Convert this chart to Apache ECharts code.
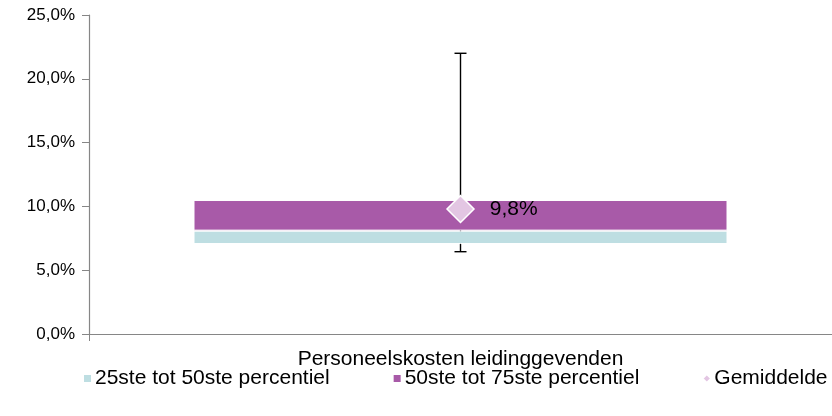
<!DOCTYPE html>
<html>
<head>
<meta charset="utf-8">
<script src="https://cdn.jsdelivr.net/npm/echarts@6/dist/echarts.min.js"></script>
<style>
  html, body { margin: 0; padding: 0; background: #fff; }
  #chart { width: 832px; height: 416px; }
</style>
</head>
<body>
<div id="chart"></div>
<script>
// Spread of staff costs for management (percent)
const categories = ['Personeelskosten leidinggevenden'];
const p25 = [7.05];     // 25th percentile
const p50 = [8.1];      // median
const p75 = [10.5];     // 75th percentile
const lowVal = [6.45];  // whisker bottom
const highVal = [22.0]; // whisker top
const mean = [9.8];     // average

const seriesNames = ['25ste tot 50ste percentiel', '50ste tot 75ste percentiel', 'Gemiddelde'];
const yMin = 0, yMax = 25, yStep = 5;

const FONT = '"Liberation Sans", Arial, sans-serif';
const fmtPct = v => v.toFixed(1).replace('.', ',') + '%';

const lowerBand = p50.map((v, i) => v - p25[i]);
const upperBand = p75.map((v, i) => v - p50[i]);
const whisker = categories.map((c, i) => [i, lowVal[i], highVal[i]]);

const chart = echarts.init(document.getElementById('chart'), null, { renderer: 'canvas' });

chart.setOption({
  animation: false,
  backgroundColor: '#fff',
  textStyle: { fontFamily: FONT },
  grid: { left: 89, top: 15, width: 748, height: 319, containLabel: false },
  legend: {
    left: 82,
    top: 368,
    width: 770,
    padding: 0,
    itemWidth: 9,
    itemHeight: 9,
    itemGap: 62,
    textStyle: { fontFamily: FONT, fontSize: 21, color: '#000', padding: [0, 0, 0, -2] },
    data: [
      { name: seriesNames[0], icon: 'rect' },
      { name: seriesNames[1], icon: 'rect' },
      { name: seriesNames[2], icon: 'diamond' }
    ]
  },
  xAxis: {
    type: 'category',
    data: categories,
    boundaryGap: true,
    axisLine: { lineStyle: { color: '#868686', width: 1.2 } },
    axisTick: { show: true, length: 7, lineStyle: { color: '#868686' } },
    axisLabel: { fontFamily: FONT, fontSize: 21, color: '#000', margin: 15 },
    splitLine: { show: false }
  },
  yAxis: {
    type: 'value',
    min: yMin,
    max: yMax,
    interval: yStep,
    axisLine: { show: true, lineStyle: { color: '#868686', width: 1.2 } },
    axisTick: { show: true, length: 7, lineStyle: { color: '#868686' } },
    axisLabel: { fontFamily: FONT, fontSize: 17, color: '#000', margin: 14, formatter: fmtPct },
    splitLine: { show: false }
  },
  series: [
    {
      name: 'whisker',
      type: 'custom',
      z: 1,
      silent: true,
      data: whisker,
      renderItem: function (params, api) {
        const idx = api.value(0);
        const lo = api.coord([idx, api.value(1)]);
        const hi = api.coord([idx, api.value(2)]);
        const half = 6;
        const style = { stroke: '#000', lineWidth: 1.4 };
        return {
          type: 'group',
          children: [
            { type: 'line', shape: { x1: lo[0], y1: lo[1], x2: hi[0], y2: hi[1] }, style },
            { type: 'line', shape: { x1: lo[0] - half, y1: lo[1], x2: lo[0] + half, y2: lo[1] }, style },
            { type: 'line', shape: { x1: hi[0] - half, y1: hi[1], x2: hi[0] + half, y2: hi[1] }, style }
          ]
        };
      }
    },
    {
      name: 'base',
      type: 'bar',
      stack: 'box',
      z: 2,
      silent: true,
      barWidth: 534,
      data: p25,
      itemStyle: { color: 'rgba(0,0,0,0)' }
    },
    {
      name: seriesNames[0],
      type: 'bar',
      stack: 'box',
      z: 2,
      barWidth: 534,
      data: lowerBand,
      itemStyle: { color: '#BEDEE2', borderColor: '#fff', borderWidth: 1 }
    },
    {
      name: seriesNames[1],
      type: 'bar',
      stack: 'box',
      z: 2,
      barWidth: 534,
      data: upperBand,
      itemStyle: { color: '#A85AA8', borderColor: '#fff', borderWidth: 1 }
    },
    {
      name: seriesNames[2],
      type: 'scatter',
      z: 3,
      data: mean,
      symbol: 'diamond',
      symbolSize: [27, 27],
      itemStyle: { color: '#E3C6E3', borderColor: '#fff', borderWidth: 1.5, opacity: 1 },
      label: {
        show: true,
        position: 'right',
        distance: 15,
        fontFamily: FONT,
        fontSize: 21,
        color: '#000',
        formatter: p => fmtPct(p.value)
      }
    }
  ]
});
</script>
</body>
</html>
